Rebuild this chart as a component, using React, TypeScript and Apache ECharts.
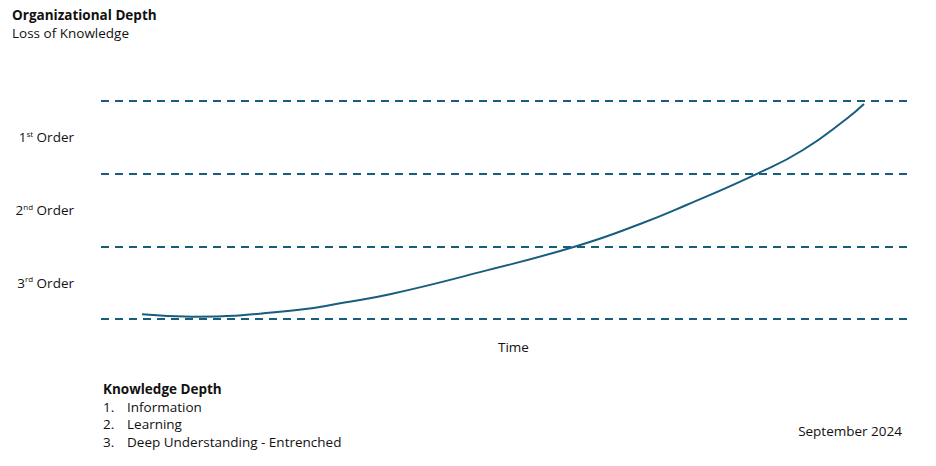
import React, { useEffect, useRef } from "react";
import * as echarts from "echarts";

const titleText = "Organizational Depth";
const subtitleText = "Loss of Knowledge";
const orderLabels = [
  { value: 2.5, num: "1", sup: "st" },
  { value: 1.5, num: "2", sup: "nd" },
  { value: 0.5, num: "3", sup: "rd" },
];
const timeX = [5.07, 11.37, 24.23, 29.91, 35.72, 46.85, 58.84, 66.63, 72.37, 81.21, 86.77, 92.21, 94.31];
const depthY = [0.065, 0.032, 0.124, 0.224, 0.34, 0.645, 1.005, 1.307, 1.569, 2.005, 2.326, 2.76, 2.958];
const legendTitle = "Knowledge Depth";
const legendItems = ["Information", "Learning", "Deep Understanding - Entrenched"];
const dateText = "September 2024";

const FONT = "'Open Sans', 'Noto Sans', sans-serif";
const BLUE = "#175e7e";
const FS = 13.5;

export default function App() {
  const ref = useRef<HTMLDivElement>(null);
  useEffect(() => {
    if (!ref.current) return;
    const chart = echarts.init(ref.current, null, { renderer: "svg" });
    const graphicItems: any[] = [
      {
        type: "text",
        left: 103,
        top: 382,
        style: { text: legendTitle, font: `bold ${FS}px ${FONT}`, fill: "#111" },
      },
    ];
    legendItems.forEach((t, i) => {
      graphicItems.push({
        type: "text",
        left: 103,
        top: 399.5 + i * 17.7,
        style: { text: `${i + 1}.`, font: `${FS}px ${FONT}`, fill: "#111" },
      });
      graphicItems.push({
        type: "text",
        left: 127,
        top: 399.5 + i * 17.7,
        style: { text: t, font: `${FS}px ${FONT}`, fill: "#111" },
      });
    });
    graphicItems.push({
      type: "text",
      right: 34,
      top: 424,
      style: { text: dateText, font: `${FS}px ${FONT}`, fill: "#111" },
    });
    const labelMap: Record<string, { num: string; sup: string }> = {};
    orderLabels.forEach((o) => (labelMap[String(o.value)] = o));
    chart.setOption({
      animation: false,
      title: {
        text: titleText,
        subtext: subtitleText,
        left: 7,
        top: 3,
        itemGap: 4,
        textStyle: { fontFamily: FONT, fontWeight: "bold", fontSize: FS, color: "#111" },
        subtextStyle: { fontFamily: FONT, fontSize: FS, color: "#111" },
      },
      grid: { left: 101, right: 26, top: 101, bottom: 147 },
      xAxis: {
        type: "value",
        min: 0,
        max: 100,
        name: "Time",
        nameLocation: "middle",
        nameGap: 21,
        nameTextStyle: { fontFamily: FONT, fontSize: FS, color: "#111", padding: [0, 0, 0, 16] },
        axisLine: { show: false },
        axisTick: { show: false },
        axisLabel: { show: false },
        splitLine: { show: false },
      },
      yAxis: {
        type: "value",
        min: 0,
        max: 3,
        interval: 1,
        axisLine: { show: false },
        axisTick: { show: false },
        splitLine: {
          show: true,
          lineStyle: { color: BLUE, width: 2, type: [8, 6] },
        },
        axisLabel: {
          customValues: orderLabels.map((o) => o.value),
          margin: 27,
          formatter: (v: number) => {
            const o = labelMap[String(v)];
            return o ? `{n|${o.num}}{s|${o.sup}}{n| Order}` : "";
          },
          rich: {
            n: { fontFamily: FONT, fontSize: FS, color: "#111" },
            s: { fontFamily: FONT, fontSize: 8, color: "#111", verticalAlign: "top", padding: [0, 0, 8, 0] },
          },
        },
      },
      series: [
        {
          type: "line",
          data: timeX.map((x, i) => [x, depthY[i]]),
          smooth: 0.5,
          showSymbol: false,
          lineStyle: { color: BLUE, width: 2 },
        },
      ],
      graphic: graphicItems,
    });
    return () => chart.dispose();
  }, []);
  return <div ref={ref} style={{ width: 936, height: 466, position: "absolute", left: 0, top: 0 }} />;
}
